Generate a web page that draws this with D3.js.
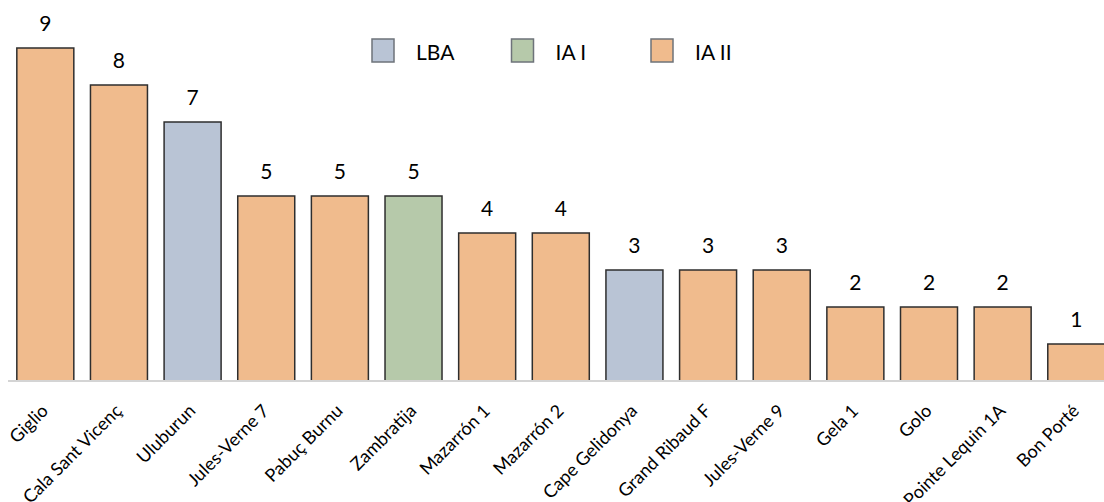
<!DOCTYPE html>
<html>
<head>
<meta charset="utf-8">
<script src="https://cdn.jsdelivr.net/npm/d3@7"></script>
<style>
  body { margin: 0; background: #fff; }
  svg text { font-family: Lato, "Open Sans", sans-serif; fill: #000; }
</style>
</head>
<body>
<div id="chart"></div>
<script>
// data
var sites = ["Giglio", "Cala Sant Vicenç", "Uluburun", "Jules-Verne 7", "Pabuç Burnu", "Zambratija",
  "Mazarrón 1", "Mazarrón 2", "Cape Gelidonya", "Grand Ribaud F", "Jules-Verne 9", "Gela 1",
  "Golo", "Pointe Lequin 1A", "Bon Porté"];
var counts = [9, 8, 7, 5, 5, 5, 4, 4, 3, 3, 3, 2, 2, 2, 1];
var periods = ["IA II", "IA II", "LBA", "IA II", "IA II", "IA I", "IA II", "IA II", "LBA",
  "IA II", "IA II", "IA II", "IA II", "IA II", "IA II"];
var periodNames = ["LBA", "IA I", "IA II"];
var periodColors = ["#b9c4d5", "#b6c9aa", "#f0bb8d"];

var svgWidth = 1104;
var svgHeight = 502;
var baseY = 381;

var svg = d3.select("#chart")
  .append("svg")
  .attr("width", svgWidth)
  .attr("height", svgHeight);

var data = sites.map(function(s, i) {
  return { site: s, count: counts[i], period: periods[i] };
});

var xScale = d3.scaleBand()
  .domain(sites)
  .range([8.5, 8.5 + 15 * 73.64])
  .paddingInner(0.226)
  .paddingOuter(0.113);

var yScale = d3.scaleLinear()
  .domain([0, 9])
  .range([baseY, 48]);

var color = d3.scaleOrdinal()
  .domain(periodNames)
  .range(periodColors);

// bars
svg.selectAll("rect.bar")
  .data(data)
  .enter()
  .append("rect")
  .attr("class", "bar")
  .attr("x", d => xScale(d.site))
  .attr("y", d => yScale(d.count))
  .attr("width", xScale.bandwidth())
  .attr("height", d => baseY - yScale(d.count))
  .attr("fill", d => color(d.period))
  .attr("stroke", "#2e2e2e")
  .attr("stroke-width", 1.5);

// axis line
var bottomAxis = d3.axisBottom(xScale).tickSize(0).tickFormat("");
var axisG = svg.append("g")
  .attr("transform", `translate(0, ${baseY})`)
  .call(bottomAxis);
axisG.select(".domain")
  .attr("d", `M8,0H${svgWidth}`)
  .attr("stroke", "#d4d4d4")
  .attr("stroke-width", 2);

// value labels
svg.selectAll("text.value")
  .data(data)
  .enter()
  .append("text")
  .attr("class", "value")
  .attr("x", d => xScale(d.site) + xScale.bandwidth() / 2)
  .attr("y", d => yScale(d.count) - 17)
  .attr("text-anchor", "middle")
  .style("font-size", "21px")
  .text(d => d.count);

// category labels
svg.selectAll("text.cat")
  .data(data)
  .enter()
  .append("text")
  .attr("class", "cat")
  .attr("transform", d => `translate(${xScale(d.site) + xScale.bandwidth() / 2 + 4}, ${baseY + 31}) rotate(-45)`)
  .attr("text-anchor", "end")
  .style("font-size", "18px")
  .text(d => d.site);

// legend
var legend = svg.selectAll("g.legend")
  .data(periodNames)
  .enter()
  .append("g")
  .attr("class", "legend")
  .attr("transform", (d, i) => `translate(${372 + i * 139.5}, 39)`);

legend.append("rect")
  .attr("width", 22)
  .attr("height", 23)
  .attr("fill", d => color(d))
  .attr("stroke", "#6e737a")
  .attr("stroke-width", 1.5);

legend.append("text")
  .attr("x", 44)
  .attr("y", 21)
  .style("font-size", "21px")
  .text(d => d);
</script>
</body>
</html>
